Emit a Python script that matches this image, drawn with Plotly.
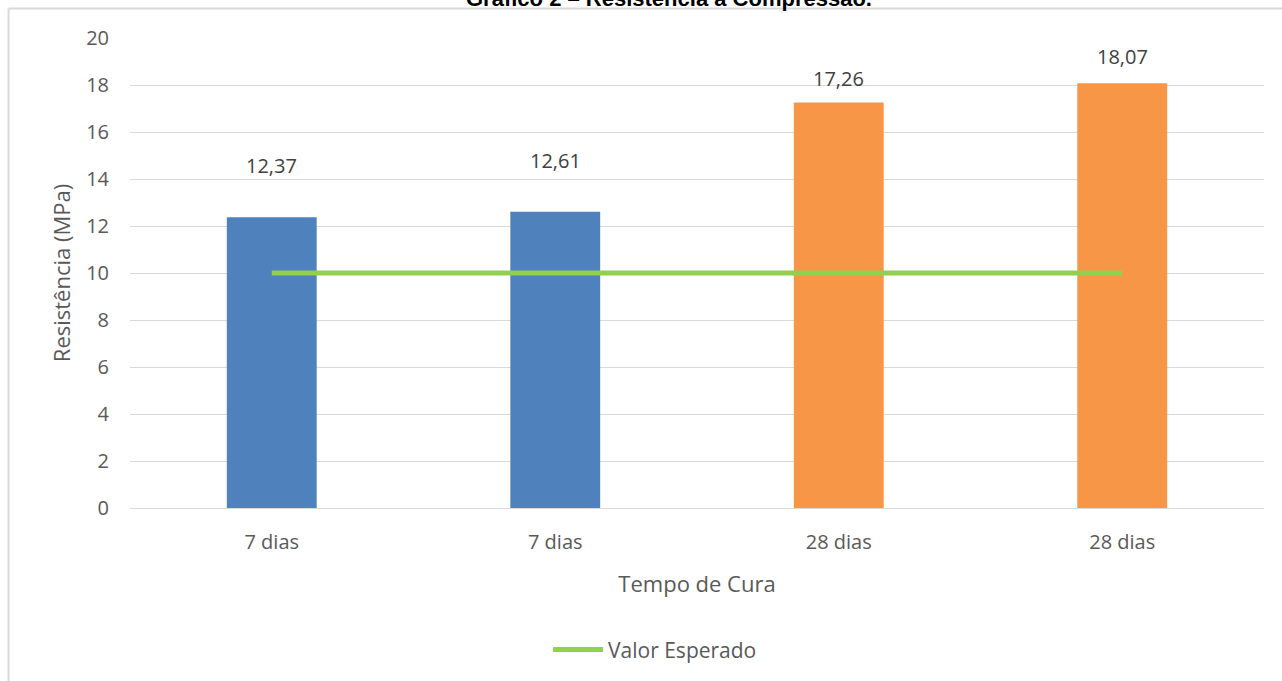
import plotly.graph_objects as go

# Compressive strength results by curing time
categories = ["7 dias (a)", "7 dias (b)", "28 dias (a)", "28 dias (b)"]
tick_text = ["7 dias", "7 dias", "28 dias", "28 dias"]
resistencia = [12.37, 12.61, 17.26, 18.07]
valor_esperado = [10, 10, 10, 10]
bar_colors = ["#4F81BD", "#4F81BD", "#F79646", "#F79646"]
label_gap_px = [36, 36, 8, 11]

FONT = "Open Sans"
GRAY = "#595959"

fig = go.Figure()

fig.add_trace(go.Bar(
    x=categories, y=resistencia,
    marker=dict(color=bar_colors, line=dict(width=0)),
    width=0.317, showlegend=False, hoverinfo="skip",
))

fig.add_trace(go.Scatter(
    x=categories, y=valor_esperado, mode="lines",
    name="Valor Esperado",
    line=dict(color="#92D050", width=5),
))

# value labels above each bar
for cat, val, gap in zip(categories, resistencia, label_gap_px):
    fig.add_annotation(
        x=cat, y=val, text=f"{val:.2f}".replace(".", ","),
        showarrow=False, yanchor="bottom", yshift=gap,
        font=dict(family=FONT, size=20, color="#404040"),
    )

# chart title (partly above the visible area)
fig.add_annotation(
    xref="paper", yref="paper", x=0.475, y=1.0627, yshift=-4,
    xanchor="center", yanchor="bottom", showarrow=False,
    text="<b>Gráfico 2 – Resistência à Compressão.</b>",
    font=dict(family="Liberation Sans", size=22, color="#000000"),
)

# outer chart frame
frame = dict(color="#D9D9D9", width=2)
fig.add_shape(type="line", xref="paper", yref="paper",
              x0=-0.1071, x1=-0.1071, y0=1.0627, y1=-0.6, line=frame)
fig.add_shape(type="line", xref="paper", yref="paper",
              x0=-0.1071, x1=1.2, y0=1.0627, y1=1.0627, line=frame)

fig.update_layout(
    width=1282, height=681,
    margin=dict(l=130, r=18, t=38, b=172),
    paper_bgcolor="white", plot_bgcolor="white",
    font=dict(family=FONT, color=GRAY),
    showlegend=True,
    legend=dict(
        orientation="h", x=0.463, xanchor="center",
        y=-0.299, yanchor="middle",
        font=dict(family=FONT, size=21, color=GRAY),
        itemwidth=50,
    ),
    xaxis=dict(
        tickvals=categories, ticktext=tick_text,
        tickfont=dict(family=FONT, size=20, color=GRAY),
        showgrid=False, showline=True, linecolor="#D9D9D9", linewidth=1,
        ticks="", ticklabelstandoff=16,
        title=dict(text="Tempo de Cura", standoff=22,
                   font=dict(family=FONT, size=22, color=GRAY)),
    ),
    yaxis=dict(
        range=[0, 20], dtick=2,
        tickfont=dict(family=FONT, size=20, color=GRAY),
        showgrid=True, gridcolor="#D9D9D9", gridwidth=1,
        zeroline=False, ticks="", ticklabelstandoff=20,
        title=dict(text="Resistência (MPa)", standoff=9,
                   font=dict(family=FONT, size=22, color=GRAY)),
    ),
)

fig.write_html("out.html")
